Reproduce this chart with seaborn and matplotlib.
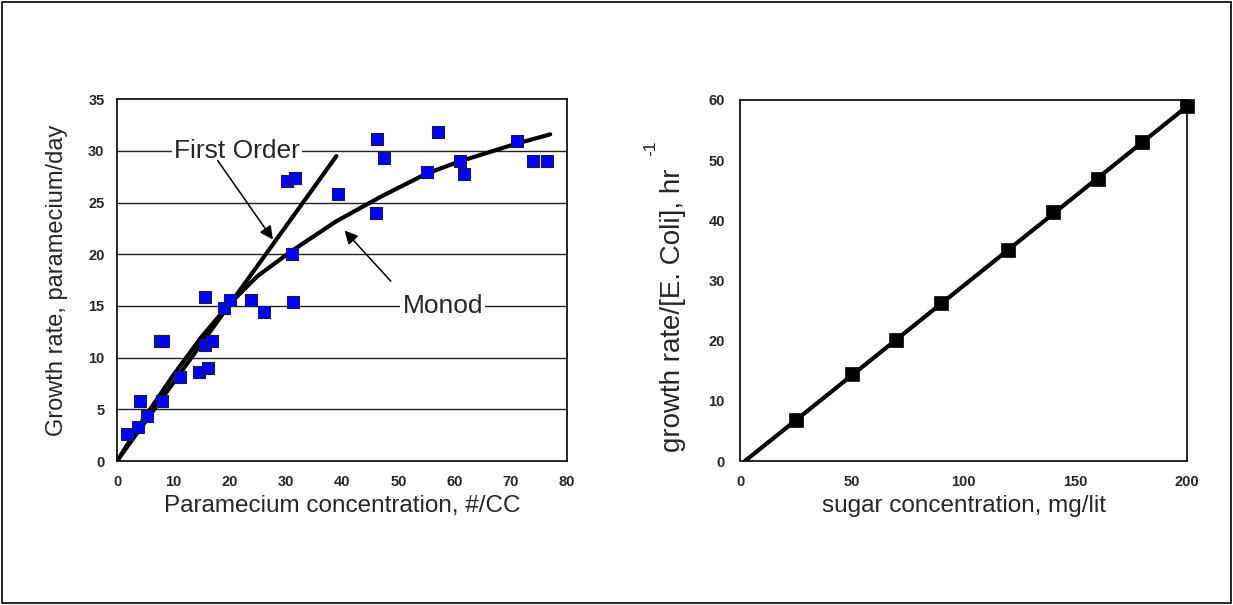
import numpy as np
import pandas as pd
import matplotlib
matplotlib.use("Agg")
import matplotlib.pyplot as plt
import seaborn as sns

# ---------------- data ----------------
# Left panel: paramecium growth data (observed)
param_conc = [1.8, 3.7, 4.0, 5.3, 7.7, 8.2, 8.0, 11.2, 14.5, 16.1, 15.6, 15.7, 16.9,
              19.1, 20.1, 23.8, 26.1, 31.2, 30.3, 31.7, 39.2, 31.1, 46.3, 47.5,
              57.1, 71.1, 74.0, 76.4, 61.0, 61.7, 55.1, 46.1]
param_rate = [2.65, 3.3, 5.8, 4.4, 11.6, 11.6, 5.8, 8.1, 8.6, 9.0, 15.9, 11.2, 11.6,
              14.8, 15.6, 15.6, 14.4, 15.4, 27.1, 27.4, 25.8, 20.0, 31.2, 29.3,
              31.8, 31.0, 29.0, 29.0, 29.0, 27.8, 28.0, 24.0]

# First-order model line
first_x = [0, 39]
first_y = [0, 29.5]

# Monod model curve
monod_x = [0, 5, 10, 15, 20, 25, 31, 39, 47, 55, 61, 71, 77]
monod_y = [0, 4.3, 8.3, 12.0, 15.2, 17.9, 20.3, 23.2, 25.6, 27.8, 29.0, 30.7, 31.6]

# Right panel: E. coli growth vs sugar
sugar_conc = [25, 50, 70, 90, 120, 140, 160, 180, 200]
ecoli_rate = [6.8, 14.4, 20.1, 26.2, 35.0, 41.3, 46.8, 53.0, 58.9]
fit_x = [2.2, 200]
fit_y = [0, 58.9]

left_xticks = [0, 10, 20, 30, 40, 50, 60, 70, 80]
left_yticks = [0, 5, 10, 15, 20, 25, 30, 35]
right_xticks = [0, 50, 100, 150, 200]
right_yticks = [0, 10, 20, 30, 40, 50, 60]

# ---------------- style ----------------
sns.set_style("white")
plt.rcParams["font.family"] = ["Liberation Sans", "DejaVu Sans"]

fig = plt.figure(figsize=(12.33, 6.05), dpi=100)
fig.patch.set_facecolor("white")

# outer border
fig.patches.append(plt.Rectangle((0.002, 0.003), 0.996, 0.994, transform=fig.transFigure,
                                 fill=False, edgecolor="black", linewidth=1.2, zorder=0))

ax1 = fig.add_axes([0.0949, 0.238, 0.3650, 0.598])
ax2 = fig.add_axes([0.6002, 0.238, 0.3625, 0.597])

tick_font = dict(fontsize=10.5, fontweight="bold")
annot_size = 19

# ---------------- left panel ----------------
df_pts = pd.DataFrame({"conc": param_conc, "rate": param_rate})
df_first = pd.DataFrame({"x": first_x, "y": first_y})
df_monod = pd.DataFrame({"x": monod_x, "y": monod_y})

for yv in left_yticks[1:-1]:
    ax1.axhline(yv, color="#222222", linewidth=1.0, zorder=1)

sns.lineplot(data=df_first, x="x", y="y", ax=ax1, color="black", linewidth=3.0,
             sort=False, estimator=None, zorder=3)
sns.lineplot(data=df_monod, x="x", y="y", ax=ax1, color="black", linewidth=3.0,
             sort=False, estimator=None, zorder=3)
sns.scatterplot(data=df_pts, x="conc", y="rate", ax=ax1, marker="s", s=85,
                color="#0000FF", edgecolor="#1a1a40", linewidth=0.8, zorder=4)

ax1.set_xlim(0, 80)
ax1.set_ylim(0, 35)
ax1.set_xticks(left_xticks)
ax1.set_yticks(left_yticks)
ax1.set_xticklabels([str(v) for v in left_xticks], **tick_font)
ax1.set_yticklabels([str(v) for v in left_yticks], **tick_font)
ax1.tick_params(axis="both", length=0)
ax1.tick_params(axis="x", pad=10)
ax1.tick_params(axis="y", pad=9)
ax1.set_xlabel("Paramecium concentration, #/CC", fontsize=17.5)
ax1.set_ylabel("Growth rate, paramecium/day", fontsize=17)
ax1.xaxis.set_label_coords(0.5, -0.095)
ax1.yaxis.set_label_coords(-0.110, 0.5)
for sp in ax1.spines.values():
    sp.set_visible(True)
    sp.set_color("black")
    sp.set_linewidth(1.2)

# annotations
ax1.text(21.3, 30, "First Order", fontsize=annot_size, ha="center", va="center",
         zorder=5, bbox=dict(facecolor="white", edgecolor="none", pad=1.5))
ax1.annotate("", xy=(28.0, 21.2), xytext=(17.6, 29.3),
             arrowprops=dict(arrowstyle="-|>", color="black", lw=1.1, mutation_scale=20),
             zorder=5)
ax1.text(57.9, 15, "Monod", fontsize=annot_size, ha="center", va="center",
         zorder=5, bbox=dict(facecolor="white", edgecolor="none", pad=1.5))
ax1.annotate("", xy=(40.1, 22.5), xytext=(49.0, 17.2),
             arrowprops=dict(arrowstyle="-|>", color="black", lw=1.1, mutation_scale=20),
             zorder=5)

# ---------------- right panel ----------------
df_ecoli = pd.DataFrame({"sugar": sugar_conc, "rate": ecoli_rate})
df_fit = pd.DataFrame({"x": fit_x, "y": fit_y})

sns.lineplot(data=df_fit, x="x", y="y", ax=ax2, color="black", linewidth=3.0,
             sort=False, estimator=None, zorder=3)
sns.scatterplot(data=df_ecoli, x="sugar", y="rate", ax=ax2, marker="s", s=115,
                color="black", edgecolor="black", linewidth=0.5, zorder=4, clip_on=False)

ax2.set_xlim(0, 200)
ax2.set_ylim(0, 60)
ax2.set_xticks(right_xticks)
ax2.set_yticks(right_yticks)
ax2.set_xticklabels([str(v) for v in right_xticks], **tick_font)
ax2.set_yticklabels([str(v) for v in right_yticks], **tick_font)
ax2.tick_params(axis="both", length=0)
ax2.tick_params(axis="x", pad=10)
ax2.tick_params(axis="y", pad=11)
ax2.set_xlabel("sugar concentration, mg/lit", fontsize=17.5)
ax2.set_ylabel("growth rate/[E. Coli], hr", fontsize=20)
ax2.xaxis.set_label_coords(0.5, -0.095)
ax2.yaxis.set_label_coords(-0.122, 0.418)
# superscript "-1" placed beyond the rotated "hr"
ax2.text(-0.199, 0.867, "-1", transform=ax2.transAxes, rotation=90,
         fontsize=12.5, ha="center", va="center")
for sp in ax2.spines.values():
    sp.set_visible(True)
    sp.set_color("black")
    sp.set_linewidth(1.2)

fig.savefig("out.png", dpi=100, facecolor="white")
